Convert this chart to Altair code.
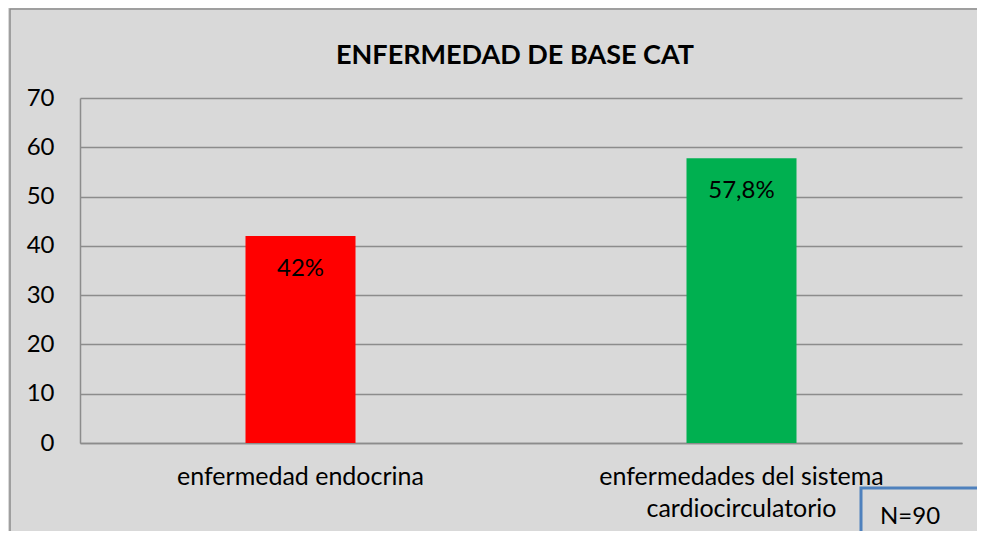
import altair as alt
import pandas as pd

categories = ["enfermedad endocrina", "enfermedades del sistema cardiocirculatorio"]
values = [42, 57.8]
value_labels = ["42%", "57,8%"]
bar_colors = ["#ff0000", "#00b050"]
y_ticks = [0, 10, 20, 30, 40, 50, 60, 70]
title_text = ["ENFERMEDAD DE BASE CAT"]
note_text = ["N=90"]

df = pd.DataFrame({"cat": categories, "val": values, "lab": value_labels, "col": bar_colors})
FONT = "Lato"
GRID = "#8c8c8c"

base = alt.Chart(df)

xenc = alt.X(
    "cat:N",
    sort=categories,
    title=None,
    scale=alt.Scale(paddingInner=0, paddingOuter=0),
    axis=alt.Axis(
        labelAngle=0,
        ticks=False,
        labelFont=FONT,
        labelFontSize=25,
        labelColor="#000000",
        labelPadding=21,
        labelLineHeight=32,
        labelLimit=600,
        domainColor=GRID,
        domainWidth=1.5,
        labelExpr="datum.value == 'enfermedades del sistema cardiocirculatorio' ? ['enfermedades del sistema', 'cardiocirculatorio'] : datum.value",
    ),
)
yenc = alt.Y(
    "val:Q",
    title=None,
    scale=alt.Scale(domain=[0, 70], nice=False),
    axis=alt.Axis(
        values=y_ticks,
        ticks=False,
        labelFont=FONT,
        labelFontSize=24,
        labelColor="#000000",
        labelPadding=26,
        grid=True,
        gridColor=GRID,
        gridWidth=1.5,
        domainColor=GRID,
        domainWidth=1.5,
    ),
)

bars = base.mark_bar(size=110).encode(
    x=xenc,
    y=yenc,
    color=alt.Color("col:N", scale=None),
)

texts = base.mark_text(
    font=FONT, fontSize=24, color="#000000", baseline="middle", align="center", dy=33
).encode(x=alt.X("cat:N", sort=categories), y=alt.Y("val:Q"), text="lab:N")

one = pd.DataFrame({"t": note_text, "title": title_text})

border = alt.Chart(one).mark_rect(
    fillOpacity=0, stroke="#8c8c8c", strokeWidth=1.5
).encode(
    x=alt.value(-70), x2=alt.value(1100), y=alt.value(-89), y2=alt.value(700)
)

title = alt.Chart(one).mark_text(
    font=FONT, fontSize=27, fontWeight="bold", color="#000000", align="center", baseline="middle"
).encode(x=alt.value(435), y=alt.value(-42), text="title:N")

nbox = alt.Chart(one).mark_rect(
    fillOpacity=0, stroke="#4f81bd", strokeWidth=3
).encode(
    x=alt.value(781), x2=alt.value(1100), y=alt.value(390), y2=alt.value(700)
)

ntext = alt.Chart(one).mark_text(
    font=FONT, fontSize=24, color="#000000", align="left", baseline="middle"
).encode(x=alt.value(800), y=alt.value(419), text="t:N")

chart = (
    alt.layer(border, title, bars, texts, nbox, ntext)
    .properties(
        width=882,
        height=345,
        autosize=alt.AutoSizeParams(type="none"),
        padding={"left": 72, "top": 90, "right": 15, "bottom": 88},
    )
    .configure(background="#d9d9d9")
    .configure_view(strokeWidth=0)
)

chart.save("out.html", embed_options={"renderer": "svg", "actions": False})
